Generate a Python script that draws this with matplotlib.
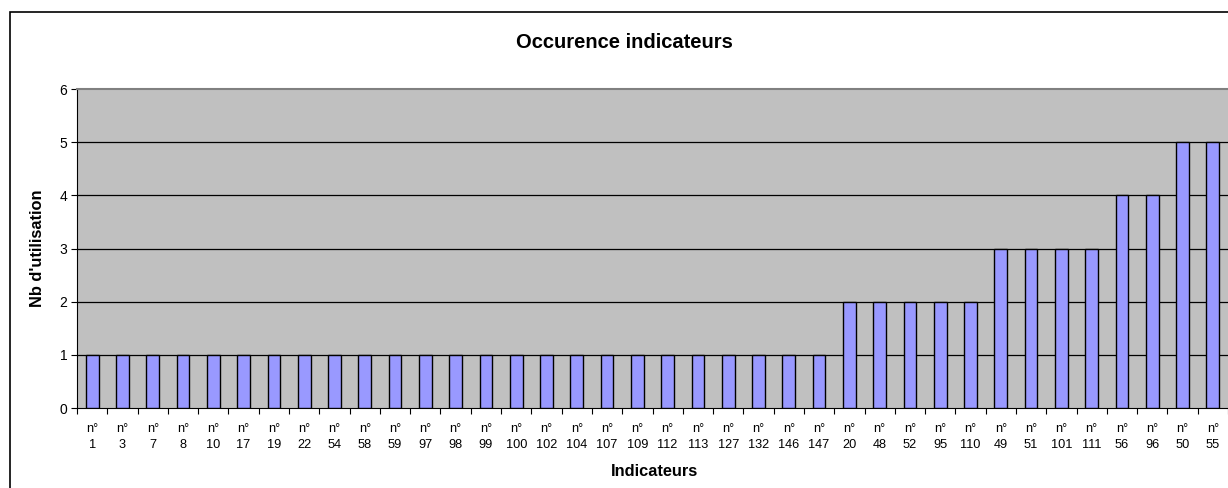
import matplotlib
matplotlib.use("Agg")
import matplotlib.pyplot as plt
from matplotlib.patches import Rectangle

plt.rcParams['font.family'] = ['Liberation Sans', 'DejaVu Sans']

indicators = ["1", "3", "7", "8", "10", "17", "19", "22", "54", "58", "59", "97", "98",
              "99", "100", "102", "104", "107", "109", "112", "113", "127", "132", "146",
              "147", "20", "48", "52", "95", "110", "49", "51", "101", "111", "56", "96",
              "50", "55"]
counts = [1] * 25 + [2] * 5 + [3] * 4 + [4] * 2 + [5] * 2
labels = ["n°\n" + s for s in indicators]
y_ticks = [0, 1, 2, 3, 4, 5, 6]

W, H = 1228, 488
fig = plt.figure(figsize=(W / 100, H / 100), dpi=100)
fig.patch.set_facecolor("white")

# outer chart frame (extends beyond right/bottom edge)
fig.patches.append(Rectangle((10 / W, -0.1), 1.2, (H - 12) / H + 0.1,
                             transform=fig.transFigure, fill=False,
                             edgecolor="black", linewidth=1.2))

left, right, top, bottom = 77, 1228, 89, 408
ax = fig.add_axes([left / W, 1 - bottom / H, (right - left) / W, (bottom - top) / H])
ax.set_facecolor("#C0C0C0")

n = len(labels)
x = list(range(n))
ax.bar(x, counts, width=0.42, color="#9999FF", edgecolor="black", linewidth=1.0, zorder=3)

ax.set_xlim(-0.5, n - 0.5)
ax.set_ylim(0, 6)
ax.set_yticks(y_ticks)
ax.set_yticklabels([str(v) for v in y_ticks], fontsize=10)
for v in y_ticks[1:-1]:
    ax.axhline(v, color="black", linewidth=0.9, zorder=1)

ax.set_xticks([i + 0.5 for i in range(-1, n)], minor=False)
ax.set_xticklabels([])
ax.set_xticks(x, minor=True)
ax.set_xticklabels(labels, minor=True, fontsize=9.2, linespacing=1.4)
ax.tick_params(axis="x", which="minor", length=0, pad=11)
ax.tick_params(axis="x", which="major", length=4, width=0.8, direction="out", color="black")
ax.tick_params(axis="y", length=4, width=0.8, direction="out", pad=3)

ax.spines["right"].set_visible(False)
ax.spines["top"].set_color("#808080")
ax.spines["top"].set_linewidth(1.5)
ax.spines["left"].set_color("black")
ax.spines["bottom"].set_color("black")

fig.text(624.5 / W, 1 - 42 / H, "Occurence indicateurs", ha="center", va="center",
         fontsize=14.5, fontweight="bold")
fig.text(37 / W, 1 - 248 / H, "Nb d'utilisation", ha="center", va="center",
         rotation=90, fontsize=11.8, fontweight="bold")
fig.text(654 / W, 1 - 472 / H, "Indicateurs", ha="center", va="center",
         fontsize=11.8, fontweight="bold")

fig.savefig("out.png", dpi=100)
